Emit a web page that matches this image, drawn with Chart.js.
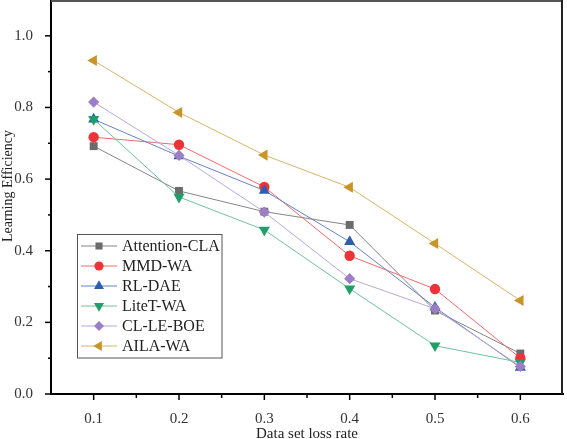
<!DOCTYPE html>
<html>
<head>
<meta charset="utf-8">
<script src="https://cdn.jsdelivr.net/npm/chart.js@4.4.1/dist/chart.umd.min.js"></script>
<style>
    html, body { margin: 0; padding: 0; background: #fff; }
    #wrap { width: 567px; height: 439px; position: relative; }
</style>
</head>
<body>
<div id="wrap"><canvas id="lossChart"></canvas></div>
<script>
// Data
const lossRates = [0.1, 0.2, 0.3, 0.4, 0.5, 0.6];
const seriesNames = ['Attention-CLA', 'MMD-WA', 'RL-DAE', 'LiteT-WA', 'CL-LE-BOE', 'AILA-WA'];
const attentionCla = [0.692, 0.567, 0.509, 0.472, 0.233, 0.113];
const mmdWa = [0.717, 0.696, 0.578, 0.386, 0.293, 0.100];
const rlDae = [0.767, 0.664, 0.568, 0.425, 0.242, 0.074];
const liteTWa = [0.767, 0.550, 0.458, 0.294, 0.135, 0.088];
const clLeBoe = [0.815, 0.666, 0.508, 0.322, 0.238, 0.077];
const ailaWa = [0.931, 0.786, 0.667, 0.577, 0.420, 0.261];
const yTickLabels = ['0.0', '0.2', '0.4', '0.6', '0.8', '1.0'];

const serif = "'Liberation Serif', 'Times New Roman', serif";

// marker / line looks per series
const styles = [
    { marker: '#6b6b6b', line: '#858585', shape: 'rect', rot: 0, r: 5.6 },
    { marker: '#ee3338', line: '#f06a6d', shape: 'circle', rot: 0, r: 5.2 },
    { marker: '#2f5db0', line: '#6483c4', shape: 'triangle', rot: 0, r: 6.4 },
    { marker: '#1e9e68', line: '#6fc19c', shape: 'triangle', rot: 180, r: 6.4 },
    { marker: '#9b7ec6', line: '#b9a7da', shape: 'rectRot', rot: 0, r: 5.6 },
    { marker: '#c8952a', line: '#d9b468', shape: 'triangle', rot: -90, r: 6.4 }
];

const values = [attentionCla, mmdWa, rlDae, liteTWa, clLeBoe, ailaWa];

const datasets = values.map((vals, i) => ({
    label: seriesNames[i],
    data: lossRates.map((x, j) => ({ x: x, y: vals[j] })),
    borderColor: styles[i].line,
    borderWidth: 1,
    backgroundColor: styles[i].marker,
    pointBackgroundColor: styles[i].marker,
    pointBorderWidth: 0,
    pointStyle: styles[i].shape,
    pointRotation: styles[i].rot,
    pointRadius: styles[i].r,
    order: values.length - i // later series drawn on top
}));

// frame, tick marks, y title and the boxed legend
const framePlugin = {
    id: 'frame',
    afterDraw(chart) {
        const ctx = chart.ctx;
        const area = chart.chartArea;
        const xs = chart.scales.x;
        const ys = chart.scales.y;
        ctx.save();

        // top and right border
        ctx.strokeStyle = '#555';
        ctx.lineWidth = 2;
        ctx.beginPath();
        ctx.moveTo(area.left, area.top + 1);
        ctx.lineTo(area.right, area.top + 1);
        ctx.stroke();
        ctx.strokeStyle = '#222';
        ctx.beginPath();
        ctx.moveTo(area.right - 1, area.top);
        ctx.lineTo(area.right - 1, area.bottom);
        ctx.stroke();

        // ticks
        ctx.strokeStyle = '#000';
        ctx.lineWidth = 1.5;
        xs.ticks.forEach(t => {
            const px = xs.getPixelForValue(t.value);
            if (px <= area.left + 2 || px >= area.right - 2) return;
            const major = Math.round(t.value * 100) % 10 === 0;
            ctx.beginPath();
            ctx.moveTo(px, area.bottom);
            ctx.lineTo(px, area.bottom + (major ? 6 : 4));
            ctx.stroke();
        });
        ys.ticks.forEach(t => {
            const py = ys.getPixelForValue(t.value);
            if (py <= area.top + 2) return;
            const major = Math.round(t.value * 10) % 2 === 0;
            ctx.beginPath();
            ctx.moveTo(area.left, py);
            ctx.lineTo(area.left - (major ? 6 : 3), py);
            ctx.stroke();
        });

        // y axis title, sits a little above the middle in the original
        ctx.save();
        ctx.translate(8, 186);
        ctx.rotate(-Math.PI / 2);
        ctx.font = '14px ' + serif;
        ctx.fillStyle = '#222';
        ctx.textAlign = 'center';
        ctx.textBaseline = 'middle';
        ctx.fillText('Learning Efficiency', 0, 0);
        ctx.restore();

        // legend box
        const box = { x: 77.5, y: 234.5, w: 144.5, h: 123.5 };
        ctx.strokeStyle = '#555';
        ctx.lineWidth = 1;
        ctx.strokeRect(box.x, box.y, box.w, box.h);
        ctx.font = '16px ' + serif;
        ctx.textBaseline = 'middle';
        ctx.textAlign = 'left';
        chart.data.datasets.forEach((ds, i) => {
            const rowY = 246 + i * 20;
            ctx.strokeStyle = styles[i].line;
            ctx.lineWidth = 1;
            ctx.beginPath();
            ctx.moveTo(81, rowY);
            ctx.lineTo(117, rowY);
            ctx.stroke();
            ctx.fillStyle = styles[i].marker;
            Chart.helpers.drawPoint(ctx, {
                pointStyle: styles[i].shape,
                rotation: styles[i].rot,
                radius: styles[i].r - 0.6,
                borderWidth: 0
            }, 99, rowY);
            ctx.fillStyle = '#222';
            ctx.fillText(ds.label, 122, rowY + 1);
        });
        ctx.restore();
    }
};

const ctx = document.getElementById('lossChart').getContext('2d');
new Chart(ctx, {
    type: 'line',
    data: { datasets: datasets },
    options: {
        responsive: true,
        maintainAspectRatio: false,
        animation: false,
        events: [],
        layout: { autoPadding: false, padding: { left: 0, right: 4, top: 0, bottom: 0 } },
        scales: {
            x: {
                type: 'linear',
                min: 0.05,
                max: 0.65,
                afterFit: scale => {
                    scale.height = 45;
                    scale.paddingLeft = 0;
                    scale.paddingRight = 0;
                },
                ticks: {
                    stepSize: 0.05,
                    autoSkip: false,
                    maxRotation: 0,
                    padding: 8,
                    color: '#333',
                    font: { family: serif, size: 15 },
                    callback: v => (Math.round(v * 100) % 10 === 0 ? v.toFixed(1) : '')
                },
                grid: { display: false },
                border: { display: true, color: '#000', width: 2 },
                title: {
                    display: true,
                    text: 'Data set loss rate',
                    color: '#222',
                    font: { family: serif, size: 15, lineHeight: 1 },
                    padding: { top: 0, bottom: -3 }
                }
            },
            y: {
                min: 0,
                max: 1.1,
                afterFit: scale => {
                    scale.width = 51;
                    scale.paddingTop = 0;
                    scale.paddingBottom = 0;
                },
                ticks: {
                    stepSize: 0.1,
                    autoSkip: false,
                    padding: 10,
                    color: '#333',
                    font: { family: serif, size: 15 },
                    callback: v => {
                        const k = Math.round(v * 10);
                        return k % 2 === 0 ? yTickLabels[k / 2] : '';
                    }
                },
                grid: { display: false },
                border: { display: true, color: '#000', width: 2 }
            }
        },
        plugins: {
            legend: { display: false },
            tooltip: { enabled: false }
        }
    },
    plugins: [framePlugin]
});
</script>
</body>
</html>
